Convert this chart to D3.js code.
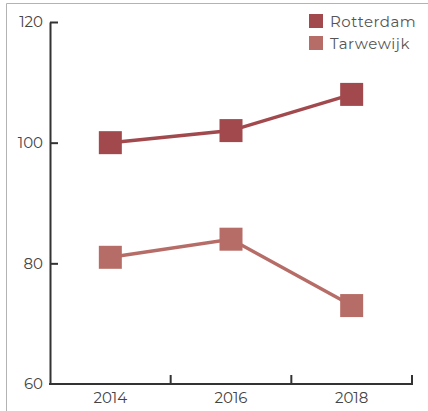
<!DOCTYPE html>
<html>
<head>
<meta charset="utf-8">
<script src="https://cdn.jsdelivr.net/npm/d3@7"></script>
<style>
  html, body { margin: 0; padding: 0; background: #fff; }
  svg { display: block; font-family: "Montserrat", "Lato", "Noto Sans", sans-serif; }
</style>
</head>
<body>
<svg id="chart" width="428" height="411"></svg>
<script>
// Index values per neighbourhood, Rotterdam = reference
const years = ["2014", "2016", "2018"];
const rotterdam = [100, 102, 108];
const tarwewijk = [81, 84, 73];
const yTicks = [60, 80, 100, 120];
const seriesNames = ["Rotterdam", "Tarwewijk"];
const seriesColors = ["#a1494d", "#b76d67"];

const series = seriesNames.map((name, i) => ({
  name,
  color: seriesColors[i],
  values: [rotterdam, tarwewijk][i]
}));

const svg = d3.select("#chart");
const W = 428, H = 411;
const plotLeft = 50, plotRight = 412, plotTop = 22, plotBottom = 384;

// frame
svg.append("path")
  .attr("d", `M6.5,${H} V3.5 H${W}`)
  .attr("fill", "none")
  .attr("stroke", "#b3b3b3")
  .attr("stroke-width", 1);

const x = d3.scaleBand().domain(years).range([plotLeft, plotRight]);
const y = d3.scaleLinear().domain([60, 120]).range([plotBottom, plotTop]);

const axisColor = "#333";
const textColor = "#444";

// y axis
const yAxis = svg.append("g").attr("transform", `translate(${plotLeft},0)`)
  .call(d3.axisLeft(y).tickValues(yTicks).tickSize(-8).tickPadding(7).tickSizeOuter(0));
yAxis.select(".domain").attr("stroke", axisColor).attr("stroke-width", 2);
yAxis.selectAll(".tick line").attr("stroke", axisColor).attr("stroke-width", 2);
yAxis.selectAll(".tick").filter(d => d === 60).select("line").remove();
yAxis.selectAll("text").attr("fill", textColor).attr("font-size", 15)
  .attr("font-family", "Montserrat, Lato, 'Noto Sans', sans-serif");

// x axis: ticks at band boundaries
const xAxis = svg.append("g").attr("transform", `translate(0,${plotBottom})`);
xAxis.append("line")
  .attr("x1", plotLeft - 1).attr("x2", plotRight + 1)
  .attr("stroke", axisColor).attr("stroke-width", 2);
xAxis.selectAll("line.tk")
  .data(years)
  .join("line")
  .attr("class", "tk")
  .attr("x1", d => x(d) + x.bandwidth())
  .attr("x2", d => x(d) + x.bandwidth())
  .attr("y1", 0).attr("y2", -9)
  .attr("stroke", axisColor).attr("stroke-width", 2);
xAxis.selectAll("text")
  .data(years)
  .join("text")
  .attr("x", d => x(d) + x.bandwidth() / 2)
  .attr("y", 19)
  .attr("text-anchor", "middle")
  .attr("fill", textColor)
  .attr("font-size", 15)
  .text(d => d);

// lines and square markers
const line = d3.line()
  .x((d, i) => x(years[i]) + x.bandwidth() / 2)
  .y(d => y(d));

const ms = 23;
series.forEach(s => {
  svg.append("path")
    .datum(s.values)
    .attr("d", line)
    .attr("fill", "none")
    .attr("stroke", s.color)
    .attr("stroke-width", 3.5);
  svg.append("g").selectAll("rect")
    .data(s.values)
    .join("rect")
    .attr("x", (d, i) => x(years[i]) + x.bandwidth() / 2 - ms / 2)
    .attr("y", d => y(d) - ms / 2)
    .attr("width", ms).attr("height", ms)
    .attr("fill", s.color);
});

// legend
const legend = svg.append("g").attr("transform", "translate(309,14)");
series.forEach((s, i) => {
  const g = legend.append("g").attr("transform", `translate(0,${i * 22})`);
  g.append("rect").attr("width", 14).attr("height", 14).attr("fill", s.color);
  g.append("text").attr("x", 21).attr("y", 12.5)
    .attr("fill", "#555").attr("font-size", 15)
    .attr("letter-spacing", 0.5)
    .text(s.name);
});
</script>
</body>
</html>
